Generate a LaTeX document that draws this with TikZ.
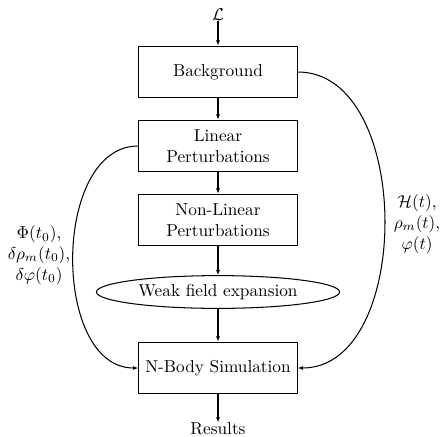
\documentclass[tikz,border=0pt]{standalone}
\usepackage{amsmath}
\usetikzlibrary{shapes.geometric,arrows.meta}
\begin{document}
\begin{tikzpicture}[x=0.58pt,y=-0.58pt,
  box/.style={draw,semithick,minimum width=92pt,minimum height=30pt,align=center,inner sep=2pt},
  ell/.style={draw,semithick,ellipse,minimum width=141pt,minimum height=19pt,inner sep=1pt},
  conn/.style={-{Latex[length=3pt,width=2.4pt]},semithick},
  lab/.style={align=center,inner sep=0pt}]
\useasboundingbox (0,0) rectangle (445,436);
\node[lab] (L) at (218,15) {$\mathcal{L}$};
\node[box] (bg) at (218,72) {Background};
\node[box] (lin) at (218,146) {Linear\\Perturbations};
\node[box] (nl) at (218,220) {Non-Linear\\Perturbations};
\node[ell] (wf) at (218,292) {Weak field expansion};
\node[box] (nb) at (218,368) {N-Body Simulation};
\node[lab] (res) at (218,429) {Results};
\node[lab] (rl) at (417,224) {$\mathcal{H}(t)$,\\$\rho_m(t)$,\\$\varphi(t)$};
\node[lab] (ll) at (39,255) {$\Phi(t_0)$,\\$\delta\rho_m(t_0)$,\\$\delta\varphi(t_0)$};
\draw[conn] (L) -- (bg);
\draw[conn] (bg) -- (lin);
\draw[conn] (lin) -- (nl);
\draw[conn] (nl) -- (wf);
\draw[conn] (wf) -- (nb);
\draw[conn] (nb) -- (res);
\draw[conn] (bg.east) to[out=0,in=0] (nb.east);
\draw[conn] (lin.west) to[out=180,in=180] (nb.west);
\end{tikzpicture}
\end{document}
